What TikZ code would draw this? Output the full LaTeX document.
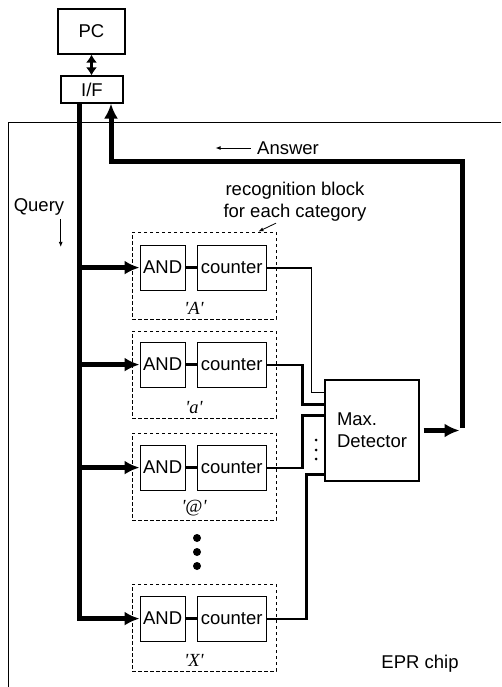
\documentclass[tikz,border=0pt]{standalone}
\usepackage{fontspec}
\setmainfont{Liberation Sans}
\newfontfamily\catfont{Liberation Serif}
\usetikzlibrary{arrows.meta,positioning,calc}

\begin{document}
\begin{tikzpicture}[
  x=1pt, y=-1pt,
  font=\fontsize{18.5}{22}\selectfont, >=Latex,
  box/.style={draw, line width=1.1pt, inner sep=0pt},
  gate/.style={box, minimum width=45pt, minimum height=45pt},
  cnt/.style={box, minimum width=69pt, minimum height=45pt},
  blk/.style={draw, dash pattern=on 3.5pt off 2.5pt, line width=0.9pt, minimum width=144pt, minimum height=87pt},
  cat/.style={font=\catfont\itshape\fontsize{18.5}{22}\selectfont},
  bus/.style={line width=5pt},
  busarrow/.style={bus, -{Latex[length=15pt,width=14pt]}},
  sig/.style={line width=2.2pt},
  note/.style={line width=0.8pt, -{Latex[length=5pt,width=4pt]}},
]
\useasboundingbox (0,0) rectangle (501,687);
% chip outline (runs off the page to the right and bottom)
\draw[line width=0.8pt] (501,122) -- (8,122) -- (8,687);
% host side
\node[box, minimum width=67pt, minimum height=45pt] (pc) at (91.5,31.5) {PC};
\node[box, minimum width=62pt, minimum height=27pt] (if) at (92,89.5) {I/F};
\draw[line width=3pt, {Latex[length=8pt,width=11pt]}-{Latex[length=8pt,width=11pt]}] (pc.south) -- (pc.south |- if.north);
% recognition blocks, one per category
\node[blk] (f1) at (204,275.5) {};
\node[gate, below right=13pt and 8pt of f1.north west] (and1) {AND};
\node[cnt, right=11pt of and1] (c1) {counter};
\node[cat, above=1pt of f1.south, xshift=-10pt] (l1) {'A'};
\node[blk] (f2) at (204,374.5) {};
\node[gate, below right=11pt and 8pt of f2.north west] (and2) {AND};
\node[cnt, right=11pt of and2] (c2) {counter};
\node[cat, above=1pt of f2.south, xshift=-10pt] (l2) {'a'};
\node[blk] (f3) at (204,476.5) {};
\node[gate, below right=12pt and 8pt of f3.north west] (and3) {AND};
\node[cnt, right=11pt of and3] (c3) {counter};
\node[cat, above=1pt of f3.south, xshift=-10pt] (l3) {'@'};
\node[blk] (f4) at (204,627.5) {};
\node[gate, below right=12pt and 8pt of f4.north west] (and4) {AND};
\node[cnt, right=11pt of and4] (c4) {counter};
\node[cat, above=1pt of f4.south, xshift=-10pt] (l4) {'X'};
\draw[sig, line width=2.8pt] (and1) -- (c1);
\draw[sig, line width=2.8pt] (and2) -- (c2);
\draw[sig, line width=2.8pt] (and3) -- (c3);
\draw[sig, line width=2.8pt] (and4) -- (c4);
\fill (197,538) circle (4pt) (197,552) circle (4pt) (197,566) circle (4pt);
\node[align=center] (rec) at (295,202) {recognition block\\for each category};
\draw[note] ($(rec.south)+(-19,-2)$) -- ($(f1.north east)+(-18,0)$);
% max detector
\node[box, minimum width=94pt, minimum height=101pt, align=left] (det) at (372,430.5) {Max.\\Detector};
\coordinate (d1) at ($(det.north west)+(0,13)$);
\coordinate (d2) at ($(det.north west)+(0,25)$);
\coordinate (d3) at ($(det.north west)+(0,36)$);
\coordinate (d4) at ($(det.north west)+(0,95)$);
\draw[sig, line width=1.8pt] (c1.east) -| ([xshift=-13pt]d1) -- (d1);
\draw[sig] (c2.east) -| ([xshift=-22pt]d2) -- (d2);
\draw[sig] (c3.east) -| ([xshift=-22pt]d3) -- (d3);
\draw[sig] (c4.east) -| ([xshift=-18pt]d4) -- (d4);
\fill (316,440) circle (1.5pt) (316,450) circle (1.5pt) (316,459) circle (1.5pt);
% query bus down the left
\coordinate (qx) at ($(if.south)+(-13,0)$);
\draw[busarrow] (qx) |- (and4.west);
\draw[busarrow] (qx |- and1.west) -- (and1.west);
\draw[busarrow] (qx |- and2.west) -- (and2.west);
\draw[busarrow] (qx |- and3.west) -- (and3.west);
\node (qry) at (39,207) {Query};
\draw[note] ([xshift=-7pt]qry.south east) -- ++(0,28);
% answer back to the interface
\coordinate (ax) at ($(if.south)+(19,0)$);
\coordinate (ans) at (462,162);
\draw[busarrow] ([xshift=4pt]det.east) -- ([xshift=-2.5pt]det.east -| ans);
\draw[busarrow, line join=miter] ([yshift=2.5pt]det.east -| ans) -- (ans) -| (ax);
\node (ansl) at (288,148) {Answer};
\draw[note] ([xshift=-3pt]ansl.west) -- ++(-35,0);
\node (epr) at (420,664) {EPR chip};
\end{tikzpicture}
\end{document}
